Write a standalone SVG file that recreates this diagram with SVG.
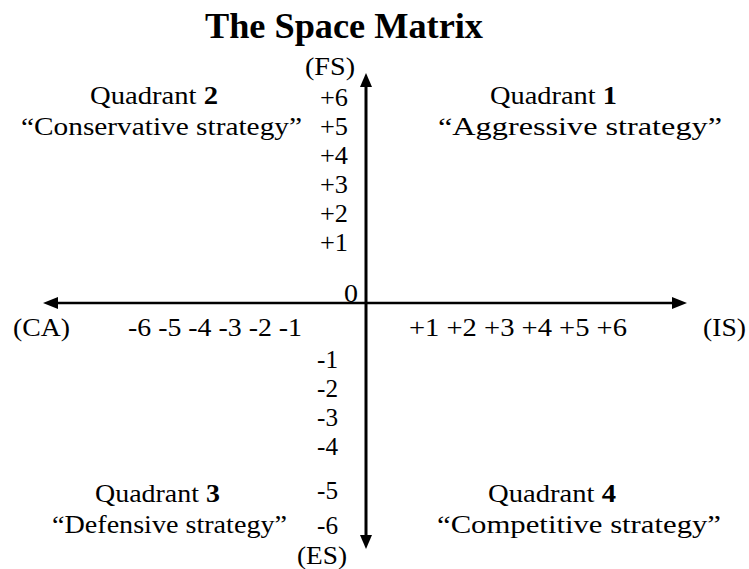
<svg xmlns="http://www.w3.org/2000/svg" width="749" height="569" viewBox="0 0 749 569">
<style>
text{font-size:25px;fill:#000}
.t{font-size:36px;font-weight:bold}
.b{font-weight:bold}
.ax{stroke:#000;fill:none}
.ah{fill:#000}
</style>
<rect width="749" height="569" fill="#fff"/>
<g font-family="'Liberation Serif', 'Times New Roman', 'DejaVu Serif', serif">
<g id="title"><text class="t" x="205" y="38" textLength="278" lengthAdjust="spacingAndGlyphs">The Space Matrix</text></g>
<g id="connectors">
<line class="ax" x1="366" y1="86" x2="366" y2="537" stroke-width="3"/>
<polygon class="ah" points="366,73 360,87 372,87"/>
<polygon class="ah" points="366,549 360,535 372,535"/>
<line class="ax" x1="57" y1="303" x2="673" y2="303" stroke-width="2.5"/>
<polygon class="ah" points="43,303 58,297 58,309"/>
<polygon class="ah" points="687,303 672,297 672,309"/>
</g>
<g id="axis-fs"><text x="305" y="75" textLength="50" lengthAdjust="spacingAndGlyphs">(FS)</text></g>
<g id="axis-es"><text x="297" y="564" textLength="50" lengthAdjust="spacingAndGlyphs">(ES)</text></g>
<g id="axis-ca"><text x="13" y="336" textLength="57" lengthAdjust="spacingAndGlyphs">(CA)</text></g>
<g id="axis-is"><text x="703" y="336" textLength="43" lengthAdjust="spacingAndGlyphs">(IS)</text></g>
<g id="ticks-y-pos">
<text x="320" y="106" textLength="28" lengthAdjust="spacingAndGlyphs">+6</text>
<text x="320" y="135" textLength="28" lengthAdjust="spacingAndGlyphs">+5</text>
<text x="320" y="164" textLength="28" lengthAdjust="spacingAndGlyphs">+4</text>
<text x="320" y="193" textLength="28" lengthAdjust="spacingAndGlyphs">+3</text>
<text x="320" y="222" textLength="28" lengthAdjust="spacingAndGlyphs">+2</text>
<text x="320" y="251" textLength="28" lengthAdjust="spacingAndGlyphs">+1</text>
</g>
<g id="origin"><text x="344" y="302" textLength="14" lengthAdjust="spacingAndGlyphs">0</text></g>
<g id="ticks-y-neg">
<text x="317" y="368" textLength="21" lengthAdjust="spacingAndGlyphs">-1</text>
<text x="317" y="397" textLength="21" lengthAdjust="spacingAndGlyphs">-2</text>
<text x="317" y="426" textLength="21" lengthAdjust="spacingAndGlyphs">-3</text>
<text x="317" y="455" textLength="21" lengthAdjust="spacingAndGlyphs">-4</text>
<text x="317" y="499" textLength="21" lengthAdjust="spacingAndGlyphs">-5</text>
<text x="317" y="534" textLength="21" lengthAdjust="spacingAndGlyphs">-6</text>
</g>
<g id="ticks-x-neg"><text x="128" y="336" textLength="174" lengthAdjust="spacingAndGlyphs">-6 -5 -4 -3 -2 -1</text></g>
<g id="ticks-x-pos"><text x="409" y="336" textLength="218" lengthAdjust="spacingAndGlyphs">+1 +2 +3 +4 +5 +6</text></g>
<g id="quadrant-2">
<text x="90" y="104" textLength="128" lengthAdjust="spacingAndGlyphs">Quadrant <tspan class="b">2</tspan></text>
<text x="21" y="135" textLength="281" lengthAdjust="spacingAndGlyphs">“Conservative strategy”</text>
</g>
<g id="quadrant-1">
<text x="490" y="104" textLength="127" lengthAdjust="spacingAndGlyphs">Quadrant <tspan class="b">1</tspan></text>
<text x="438" y="135" textLength="284" lengthAdjust="spacingAndGlyphs">“Aggressive strategy”</text>
</g>
<g id="quadrant-3">
<text x="95" y="502" textLength="125" lengthAdjust="spacingAndGlyphs">Quadrant <tspan class="b">3</tspan></text>
<text x="52" y="533" textLength="235" lengthAdjust="spacingAndGlyphs">“Defensive strategy”</text>
</g>
<g id="quadrant-4">
<text x="488" y="502" textLength="128" lengthAdjust="spacingAndGlyphs">Quadrant <tspan class="b">4</tspan></text>
<text x="437" y="533" textLength="284" lengthAdjust="spacingAndGlyphs">“Competitive strategy”</text>
</g>
</g>
</svg>
